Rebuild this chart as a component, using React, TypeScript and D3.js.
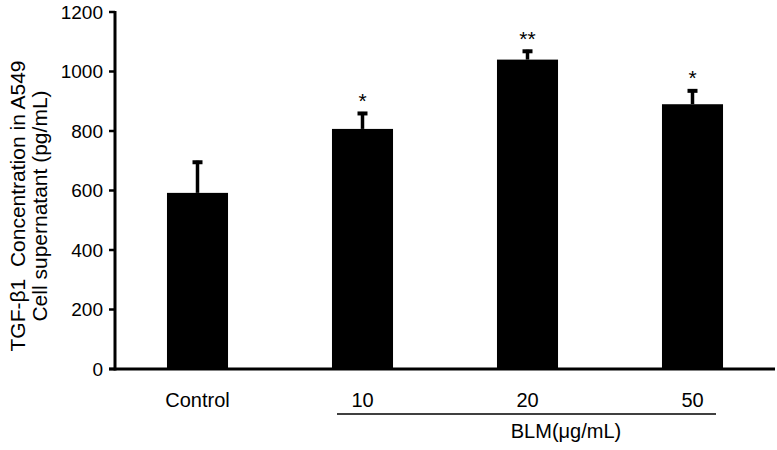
import * as d3 from 'd3';
import React from 'react';

const groups = ['Control', '10', '20', '50'];
const means = [592, 807, 1040, 890];
const errors = [108, 57, 33, 50];
const stars = ['', '*', '**', '*'];
const yTicks = [0, 200, 400, 600, 800, 1000, 1200];

const W = 777;
const H = 450;
const margin = { top: 12, right: 2, bottom: 81, left: 115 };

export default function App() {
    const x = d3.scaleBand().domain(groups).range([margin.left, W - margin.right]).padding(0);
    const y = d3.scaleLinear().domain([0, 1200]).range([H - margin.bottom, margin.top]);
    const barW = x.bandwidth() * 0.37;
    const capW = 10;
    const font = 'Arial, "Liberation Sans", sans-serif';
    const cx = (g: string) => (x(g) as number) + x.bandwidth() / 2;
    const y0 = y(0);

    return (
        <svg width={W} height={H} style={{ position: 'absolute', left: 0, top: 0 }} fontFamily={font}>
            {/* bars */}
            {groups.map((g, i) => (
                <g key={g}>
                    <rect x={cx(g) - barW / 2} y={y(means[i])} width={barW} height={y0 - y(means[i])} fill="#000" />
                    <line x1={cx(g)} x2={cx(g)} y1={y(means[i])} y2={y(means[i] + errors[i])} stroke="#000" strokeWidth={3.5} />
                    <line x1={cx(g) - capW / 2} x2={cx(g) + capW / 2} y1={y(means[i] + errors[i]) + 1.5} y2={y(means[i] + errors[i]) + 1.5} stroke="#000" strokeWidth={4} />
                    {stars[i] && (
                        <text x={cx(g)} y={y(means[i] + errors[i]) - 4} textAnchor="middle" fontSize={21}>{stars[i]}</text>
                    )}
                </g>
            ))}
            {/* y axis */}
            <line x1={margin.left} x2={margin.left} y1={y(1200) - 1} y2={y0 + 1.5} stroke="#000" strokeWidth={3} />
            {yTicks.map(t => (
                <g key={t}>
                    <line x1={margin.left - 6} x2={margin.left} y1={y(t)} y2={y(t)} stroke="#000" strokeWidth={2.5} />
                    <text x={margin.left - 12} y={y(t)} dy="0.35em" textAnchor="end" fontSize={19}>{t}</text>
                </g>
            ))}
            {/* x axis */}
            <line x1={margin.left - 6} x2={W - 2} y1={y0} y2={y0} stroke="#000" strokeWidth={3} />
            {groups.map(g => (
                <text key={g} x={cx(g)} y={y0 + 38} textAnchor="middle" fontSize={20}>{g}</text>
            ))}
            <line x1={337} x2={716} y1={y0 + 45} y2={y0 + 45} stroke="#000" strokeWidth={1.5} />
            <text x={566} y={y0 + 69} textAnchor="middle" fontSize={20}>BLM(μg/mL)</text>
            {/* y label */}
            <g transform={`translate(18, 206) rotate(-90)`}>
                <text x={0} y={0} dy="0.35em" textAnchor="middle" fontSize={21} style={{ whiteSpace: 'pre' }}>{'TGF-β1  Concentration in A549'}</text>
                <text x={0} y={22} dy="0.35em" textAnchor="middle" fontSize={21}>Cell supernatant (pg/mL)</text>
            </g>
        </svg>
    );
}
